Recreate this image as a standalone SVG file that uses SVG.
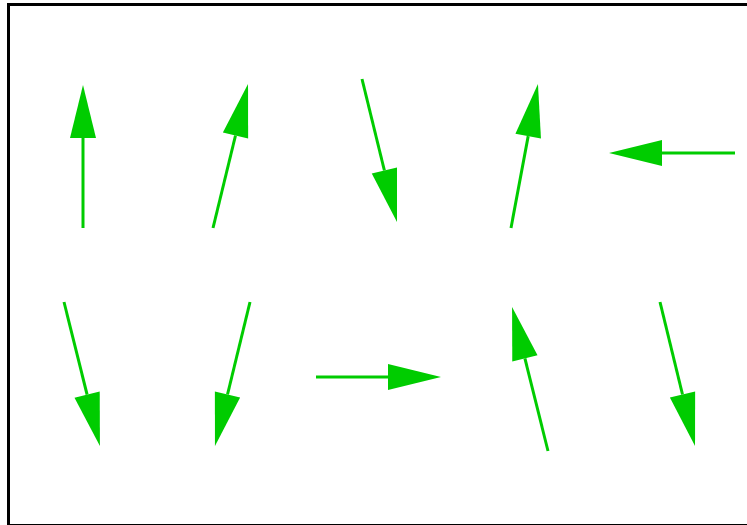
<svg xmlns="http://www.w3.org/2000/svg" width="747" height="525" viewBox="0 0 747 525">
<style>
.a{stroke:#00cc00;stroke-width:3;fill:none;marker-end:url(#h)}
</style>
<defs>
<marker id="h" markerUnits="userSpaceOnUse" markerWidth="53" markerHeight="26" refX="0" refY="13" orient="auto" overflow="visible">
<path d="M0,0 L53,13 L0,26 Z" fill="#00cc00"/>
</marker>
</defs>
<rect x="8.5" y="4.5" width="750" height="521" fill="#ffffff" stroke="#000000" stroke-width="3"/>
<g id="arrows">
<line class="a" x1="83" y1="228" x2="83" y2="138"/>
<line class="a" x1="213" y1="228" x2="235.5" y2="135.5"/>
<line class="a" x1="362" y1="79" x2="384.4" y2="170.5"/>
<line class="a" x1="511" y1="228" x2="528.2" y2="136.1"/>
<line class="a" x1="735" y1="153" x2="662" y2="153"/>
<line class="a" x1="64" y1="302" x2="87.1" y2="394.6"/>
<line class="a" x1="250" y1="302" x2="227.5" y2="394.5"/>
<line class="a" x1="316" y1="377" x2="388" y2="377"/>
<line class="a" x1="548" y1="451" x2="524.9" y2="358.4"/>
<line class="a" x1="660" y1="302" x2="682.5" y2="394.5"/>
</g>
</svg>
